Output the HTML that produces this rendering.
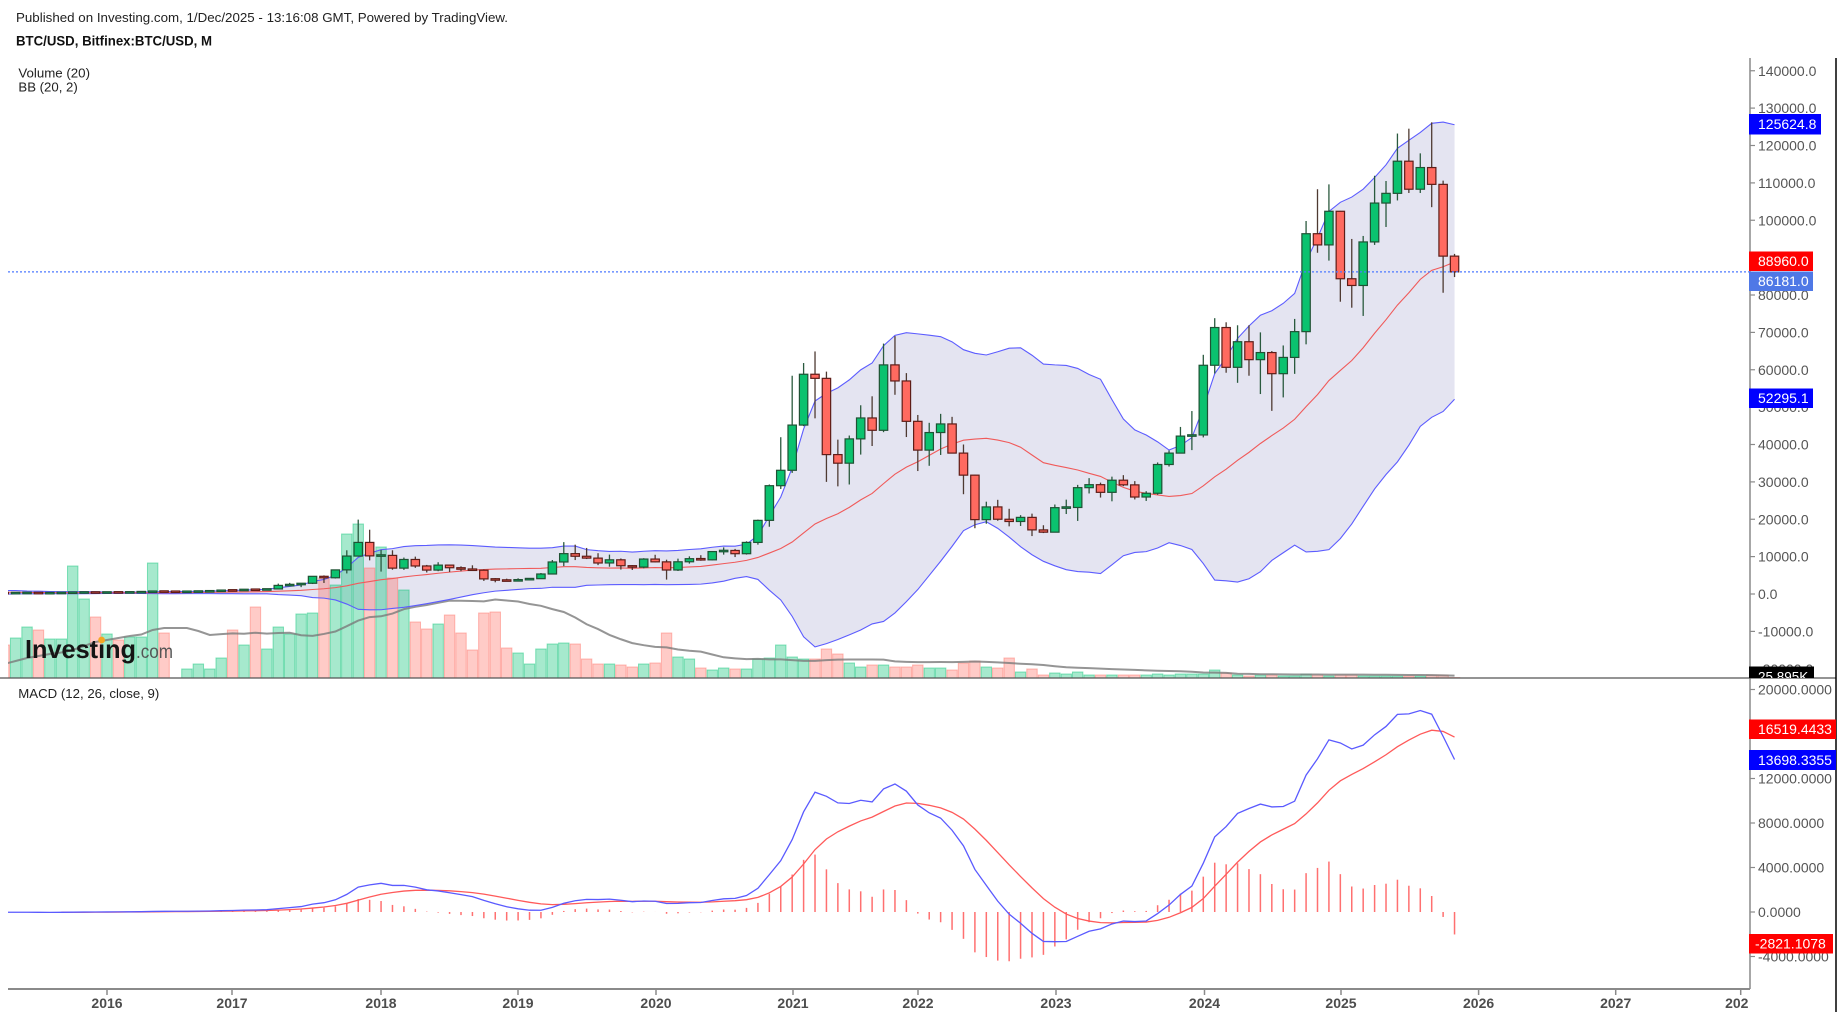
<!DOCTYPE html>
<html><head><meta charset="utf-8">
<style>
html,body{margin:0;padding:0;background:#fff;}
body{width:1844px;height:1018px;overflow:hidden;position:relative;font-family:"Liberation Sans",Arial,sans-serif;}
svg{position:absolute;left:0;top:0;}
</style></head>
<body>
<svg id="c" width="1844" height="1018" viewBox="0 0 1844 1018" xmlns="http://www.w3.org/2000/svg" font-family="Liberation Sans, Arial, sans-serif">
<defs>
<clipPath id="cp"><rect x="8" y="58" width="1742" height="620"/></clipPath>
<clipPath id="cm"><rect x="8" y="679" width="1742" height="310"/></clipPath>
<clipPath id="ct"><rect x="0" y="990" width="1748" height="28"/></clipPath>
<clipPath id="cv"><rect x="1740" y="600" width="100" height="78"/></clipPath>
</defs>
<rect x="0" y="0" width="1844" height="1018" fill="#fff"/>
<g id="price" clip-path="url(#cp)"></g>
<g id="macd" clip-path="url(#cm)"></g>

<!-- header -->
<text x="16" y="22" font-size="13" fill="#222" textLength="492" lengthAdjust="spacingAndGlyphs">Published on Investing.com, 1/Dec/2025 - 13:16:08 GMT, Powered by TradingView.</text>
<text x="16" y="45.5" font-size="13.5" font-weight="bold" fill="#111" textLength="196" lengthAdjust="spacingAndGlyphs">BTC/USD, Bitfinex:BTC/USD, M</text>
<text x="18.4" y="77.5" font-size="13" fill="#222" textLength="71.6" lengthAdjust="spacingAndGlyphs">Volume (20)</text>
<text x="18.4" y="91.5" font-size="13" fill="#222" textLength="59.4" lengthAdjust="spacingAndGlyphs">BB (20, 2)</text>
<text x="18.3" y="698" font-size="13" fill="#222" textLength="141" lengthAdjust="spacingAndGlyphs">MACD (12, 26, close, 9)</text>

<!-- logo -->
<text x="25" y="658" font-size="26" font-weight="bold" fill="#151515" textLength="111" lengthAdjust="spacingAndGlyphs">Investing</text>
<circle cx="101.6" cy="640" r="3.4" fill="#f5a623"/>
<text x="136" y="658" font-size="19" fill="#555" textLength="37" lengthAdjust="spacingAndGlyphs">.com</text>

<!-- axes lines -->
<line x1="1750" y1="58" x2="1750" y2="989" stroke="#8a8a8a" stroke-width="1.5"/>
<line x1="8" y1="989" x2="1750" y2="989" stroke="#8a8a8a" stroke-width="2"/>
<line x1="0" y1="678" x2="1836" y2="678" stroke="#555" stroke-width="1.2"/>
<line x1="1836" y1="58" x2="1836" y2="1012" stroke="#000" stroke-width="1.5"/>

<!-- price ticks -->
<g stroke="#8a8a8a" stroke-width="1.2">
<line x1="1750" x2="1755" y1="70.75" y2="70.75"/><line x1="1750" x2="1755" y1="108.1" y2="108.1"/>
<line x1="1750" x2="1755" y1="145.5" y2="145.5"/><line x1="1750" x2="1755" y1="182.9" y2="182.9"/>
<line x1="1750" x2="1755" y1="220.25" y2="220.25"/><line x1="1750" x2="1755" y1="257.6" y2="257.6"/>
<line x1="1750" x2="1755" y1="295" y2="295"/><line x1="1750" x2="1755" y1="332.4" y2="332.4"/>
<line x1="1750" x2="1755" y1="369.75" y2="369.75"/><line x1="1750" x2="1755" y1="407.1" y2="407.1"/>
<line x1="1750" x2="1755" y1="444.5" y2="444.5"/><line x1="1750" x2="1755" y1="481.9" y2="481.9"/>
<line x1="1750" x2="1755" y1="519.25" y2="519.25"/><line x1="1750" x2="1755" y1="556.6" y2="556.6"/>
<line x1="1750" x2="1755" y1="594" y2="594"/><line x1="1750" x2="1755" y1="631.4" y2="631.4"/>
<line x1="1750" x2="1755" y1="668.75" y2="668.75"/>
<line x1="1750" x2="1755" y1="689.5" y2="689.5"/><line x1="1750" x2="1755" y1="734" y2="734"/>
<line x1="1750" x2="1755" y1="778.5" y2="778.5"/><line x1="1750" x2="1755" y1="823" y2="823"/>
<line x1="1750" x2="1755" y1="867.5" y2="867.5"/><line x1="1750" x2="1755" y1="912" y2="912"/>
<line x1="1750" x2="1755" y1="956.5" y2="956.5"/>
</g>
<g font-size="14" fill="#555">
<text x="1758" y="75.75">140000.0</text>
<text x="1758" y="113.1">130000.0</text>
<text x="1758" y="150.5">120000.0</text>
<text x="1758" y="187.9">110000.0</text>
<text x="1758" y="225.25">100000.0</text>
<text x="1758" y="262.6">90000.0</text>
<text x="1758" y="300">80000.0</text>
<text x="1758" y="337.4">70000.0</text>
<text x="1758" y="374.75">60000.0</text>
<text x="1758" y="412.1">50000.0</text>
<text x="1758" y="449.5">40000.0</text>
<text x="1758" y="486.9">30000.0</text>
<text x="1758" y="524.25">20000.0</text>
<text x="1758" y="561.6">10000.0</text>
<text x="1758" y="599">0.0</text>
<text x="1758" y="636.4">-10000.0</text>
<text x="1758" y="673.75">-20000.0</text>
<text x="1758" y="694.5">20000.0000</text>
<text x="1758" y="739">16000.0000</text>
<text x="1758" y="783.5">12000.0000</text>
<text x="1758" y="828">8000.0000</text>
<text x="1758" y="872.5">4000.0000</text>
<text x="1758" y="917">0.0000</text>
<text x="1758" y="961.5">-4000.0000</text>
</g>

<!-- value labels -->
<g font-size="14" fill="#fff">
<rect x="1749" y="114" width="72" height="20.5" fill="#0000ff"/>
<text x="1758" y="129.2">125624.8</text>
<rect x="1749" y="251.5" width="64" height="19.5" fill="#ff0000"/>
<text x="1758" y="266.2">88960.0</text>
<rect x="1749" y="271.5" width="64" height="19.5" fill="#4f78e6"/>
<text x="1758" y="286.2">86181.0</text>
<rect x="1749" y="388.5" width="64" height="19.5" fill="#0000ff"/>
<text x="1758" y="403.2">52295.1</text>
<g clip-path="url(#cv)">
<rect x="1749" y="666.5" width="65" height="20" fill="#000"/>
<text x="1758" y="681.5" font-size="13.5">25.895K</text>
</g>
<rect x="1749" y="719.5" width="87" height="19.5" fill="#ff0000"/>
<text x="1758" y="734.2">16519.4433</text>
<rect x="1749" y="750" width="87" height="20" fill="#0000ff"/>
<text x="1758" y="765">13698.3355</text>
<rect x="1749" y="934" width="84" height="19.5" fill="#ff0000"/>
<text x="1755" y="948.7">-2821.1078</text>
</g>

<!-- time axis -->
<g stroke="#8a8a8a" stroke-width="1.5">
<line x1="107" x2="107" y1="989" y2="995"/><line x1="232" x2="232" y1="989" y2="995"/>
<line x1="381" x2="381" y1="989" y2="995"/><line x1="518" x2="518" y1="989" y2="995"/>
<line x1="656" x2="656" y1="989" y2="995"/><line x1="793" x2="793" y1="989" y2="995"/>
<line x1="918" x2="918" y1="989" y2="995"/><line x1="1056" x2="1056" y1="989" y2="995"/>
<line x1="1204.5" x2="1204.5" y1="989" y2="995"/><line x1="1341" x2="1341" y1="989" y2="995"/>
<line x1="1478.6" x2="1478.6" y1="989" y2="995"/><line x1="1615.7" x2="1615.7" y1="989" y2="995"/>
<line x1="1740.7" x2="1740.7" y1="989" y2="995"/>
</g>
<g font-size="14" font-weight="bold" fill="#4d4d4d" text-anchor="middle" clip-path="url(#ct)">
<text x="107" y="1008">2016</text>
<text x="232" y="1008">2017</text>
<text x="381" y="1008">2018</text>
<text x="518" y="1008">2019</text>
<text x="656" y="1008">2020</text>
<text x="793" y="1008">2021</text>
<text x="918" y="1008">2022</text>
<text x="1056" y="1008">2023</text>
<text x="1204.5" y="1008">2024</text>
<text x="1341" y="1008">2025</text>
<text x="1478.6" y="1008">2026</text>
<text x="1615.7" y="1008">2027</text>
<text x="1740.7" y="1008">2028</text>
</g>
</svg>
<script>
(function(){
var D=[
[236,247,228,230],[230,268,218,263],[263,315,253,284],[284,285,162,230],[230,245,225,236],[236,335,236,314],[314,502,306,377],[377,469,350,430],
[430,462,352,368],[368,446,365,437],[437,440,392,416],[416,467,411,448],[448,550,438,531],[531,780,531,673],[673,705,608,624],[624,627,480,573],[573,628,570,608],[608,720,605,700],[700,755,681,745],[745,980,740,963],
[963,1150,750,958],[958,1200,920,1190],[1190,1290,890,1080],[1080,1350,1060,1350],[1350,2780,1340,2300],[2300,2980,2100,2480],[2480,2930,1830,2870],[2870,4750,2670,4730],[4730,4980,2950,4340],[4340,6470,4140,6450],[6450,11700,5500,10150],[10150,19900,10000,13800],
[13800,17200,9000,10200],[10250,11800,6000,10330],[10330,11700,6500,6920],[6920,9750,6450,9240],[9240,10000,7000,7500],[7500,7780,5760,6400],[6400,8500,6100,7730],[7730,7760,5880,7030],[7030,7400,6100,6630],[6630,7680,6200,6370],[6370,6600,3500,4040],[4040,4250,3130,3740],
[3740,4100,3350,3460],[3460,4200,3400,3850],[3850,4200,3700,4100],[4100,5620,4050,5350],[5350,9100,5330,8570],[8570,13880,7460,10800],[10800,13200,9080,10100],[10100,12320,9350,9600],[9600,10920,7730,8300],[8300,10540,7300,9150],[9150,9510,6540,7560],[7560,7740,6430,7200],
[7200,9580,6880,9350],[9350,10500,8450,8600],[8600,9180,3850,6420],[6420,9460,6150,8620],[8620,10070,8130,9450],[9450,10380,8900,9140],[9140,11450,8980,11350],[11350,12470,10530,11650],[11650,12070,9880,10780],[10780,14100,10540,13800],[13800,19900,13200,19700],[19700,29300,18000,28980],
[28980,41950,28100,33100],[33100,58400,32400,45200],[45200,61800,44900,58800],[58800,64900,47000,57700],[57700,59500,30000,37300],[37300,41300,28800,35000],[35000,42400,29300,41500],[41500,50500,37300,47100],[47100,52900,39600,43800],[43800,67000,43300,61300],[61300,69000,53300,57000],[57000,59100,42000,46200],
[46200,47900,32900,38500],[38500,45800,34300,43200],[43200,48200,37200,45500],[45500,47400,37600,37700],[37700,40000,26700,31800],[31800,31900,17600,19900],[19900,24700,18800,23300],[23300,25200,19600,20000],[20000,22800,18100,19400],[19400,21100,18200,20500],[20500,21500,15500,17150],[17150,18400,16300,16540],
[16540,23950,16500,23100],[23100,25250,21400,23150],[23150,29200,19550,28450],[28450,31000,26900,29250],[29250,29800,25800,27200],[27200,31400,24800,30450],[30450,31800,28850,29200],[29200,30200,25300,25950],[25950,27500,24900,26950],[26950,35200,26550,34650],[34650,38400,34100,37700],[37700,44700,37600,42250],
[42250,48950,38500,42550],[42550,64000,41900,61200],[61200,73800,59000,71300],[71300,72700,59200,60650],[60650,71900,56500,67500],[67500,71900,58400,62700],[62700,70000,53500,64600],[64600,65000,49000,58950],[58950,66500,52600,63300],[63300,73600,58900,70200],[70200,99800,66800,96400],[96400,108300,91300,93400],
[93400,109600,89200,102400],[102400,102500,78200,84350],[84350,95000,76600,82550],[82550,95800,74400,94200],[94200,111900,93400,104600],[104600,110500,98200,107200],[107200,123200,105300,115800],[115800,124500,107300,108300],[108300,117900,107300,114100],[114100,126200,103500,109600],[109600,110600,80600,90400],[90400,91000,84800,86181]
];
var V=[33,40,51,48,39,39,112,79,61,44,38,41,41,115,45,0,
9,14,9,20,48,33,71,29,51,44,64,65,100,93,144,154,
110,131,100,88,56,49,54,63,45,28,65,66,30,25,14,29,
34,35,34,19,14,14,13,11,14,15,45,21,19,10,8,10,
9,9,19,20,33,21,19,19,29,24,15,11,13,13,11,11,
13,10,10,8,15,17,11,10,20,6,9,3,5,4,6,3,
3,3,3,3,3,4,3,4,4,4,8,5,3,2,3,3,
2,2,4,3,2,3,3,2,2,2,2,2,2,3,3,0.5];
var MA0=[664,661,658,656,654,652.5,650,646,642,640,638,636,634.5,630,628,628,628,631,635];
var PRE=[20,33,93,139,129,97,106,135,133,198,1130,730,830,570,455,447,627,640,586,480,387,338,378,320,217,254,244,236];
var N=D.length,off=PRE.length,i,j,k;
function X(i){return 4.2+11.42*i;}
function PY(p){return 594-p*0.0037375;}
function MY(v){return 912-v*0.011125;}
function f(n){return Math.round(n*100)/100;}
var C=PRE.slice();for(i=0;i<N;i++)C.push(D[i][3]);
var up=[],mid=[],lo=[];
for(i=0;i<N;i++){k=i+off;var s=0;for(j=k-19;j<=k;j++)s+=C[j];var m=s/20,q=0;for(j=k-19;j<=k;j++)q+=(C[j]-m)*(C[j]-m);var sd=Math.sqrt(q/20);mid.push(m);up.push(m+2*sd);lo.push(m-2*sd);}
function ema(a,L){var r=[],e=null,al=2/(L+1),buf=[];for(var i=0;i<a.length;i++){var v=a[i];if(v==null){r.push(null);continue;}if(e==null){buf.push(v);if(buf.length<L){r.push(null);continue;}var s=0;for(var j=buf.length-L;j<buf.length;j++)s+=buf[j];e=s/L;}else e=al*v+(1-al)*e;r.push(e);}return r;}
var e12=ema(C,12),e26=ema(C,26),mac=[];
for(i=0;i<C.length;i++)mac.push(e12[i]!=null&&e26[i]!=null?e12[i]-e26[i]:null);
var sig=ema(mac,9);
var s='';
var poly='';
for(i=0;i<N;i++)poly+=f(X(i))+','+f(PY(up[i]))+' ';
for(i=N-1;i>=0;i--)poly+=f(X(i))+','+f(PY(lo[i]))+' ';
s+='<polygon points="'+poly+'" fill="#e4e4f1"/>';
for(i=0;i<N;i++){var h=V[i];if(h<=0)continue;var g=D[i][3]>=D[i][0];var col=g?'#00c070':'#ff6a5f';
s+='<rect x="'+f(X(i)-5.2)+'" y="'+f(678-h)+'" width="10.4" height="'+h+'" fill="'+col+'" fill-opacity="0.35" stroke="'+col+'" stroke-opacity="0.45" stroke-width="1"/>';}
var vp='';
for(i=0;i<N;i++){var y;if(i<19)y=MA0[i];else{var ss=0;for(j=i-19;j<=i;j++)ss+=V[j];y=678-ss/20;}vp+=f(X(i))+','+f(y)+' ';}
s+='<polyline points="'+vp+'" fill="none" stroke="#7a7a7a" stroke-opacity="0.8" stroke-width="2"/>';
function pl(arr,fn){var p='';for(var i=0;i<N;i++)p+=f(X(i))+','+f(fn(arr[i]))+' ';return p;}
s+='<polyline points="'+pl(up,PY)+'" fill="none" stroke="#5c5cff" stroke-width="1.1"/>';
s+='<polyline points="'+pl(lo,PY)+'" fill="none" stroke="#5c5cff" stroke-width="1.1"/>';
s+='<polyline points="'+pl(mid,PY)+'" fill="none" stroke="#f05a5a" stroke-width="1.1"/>';
for(i=0;i<N;i++){var d=D[i],x=X(i),g2=d[3]>=d[0];
var bc=g2?'#1f5234':'#5e1d18',fc=g2?'#0bc26f':'#ff6a60',wc=g2?'#2a5a3e':'#4e3a32';
s+='<line x1="'+f(x)+'" x2="'+f(x)+'" y1="'+f(PY(d[1]))+'" y2="'+f(PY(d[2]))+'" stroke="'+wc+'" stroke-width="1.3"/>';
var t=PY(Math.max(d[0],d[3])),b=PY(Math.min(d[0],d[3]));if(b-t<1.5){var cy=(t+b)/2;t=cy-0.75;b=cy+0.75;}
s+='<rect x="'+f(x-4.2)+'" y="'+f(t)+'" width="8.4" height="'+f(b-t)+'" fill="'+fc+'" stroke="'+bc+'" stroke-width="1.2"/>';}
s+='<line x1="8" x2="1750" y1="271.9" y2="271.9" stroke="#4d79ff" stroke-width="1.2" stroke-dasharray="2 2"/>';
document.getElementById('price').innerHTML=s;
var m='';
for(i=0;i<N;i++){k=i+off;if(sig[k]==null)continue;var hv=mac[k]-sig[k];m+='<line x1="'+f(X(i))+'" x2="'+f(X(i))+'" y1="912" y2="'+f(MY(hv))+'" stroke="#ff4c4c" stroke-opacity="0.8" stroke-width="1.5"/>';}
var sp='',mp='';
for(i=0;i<N;i++){k=i+off;if(sig[k]!=null)sp+=f(X(i))+','+f(MY(sig[k]))+' ';if(mac[k]!=null)mp+=f(X(i))+','+f(MY(mac[k]))+' ';}
m+='<polyline points="'+sp+'" fill="none" stroke="#ff5a5a" stroke-width="1.3"/>';
m+='<polyline points="'+mp+'" fill="none" stroke="#5a5aff" stroke-width="1.3"/>';
document.getElementById('macd').innerHTML=m;
})();
</script>
</body></html>
